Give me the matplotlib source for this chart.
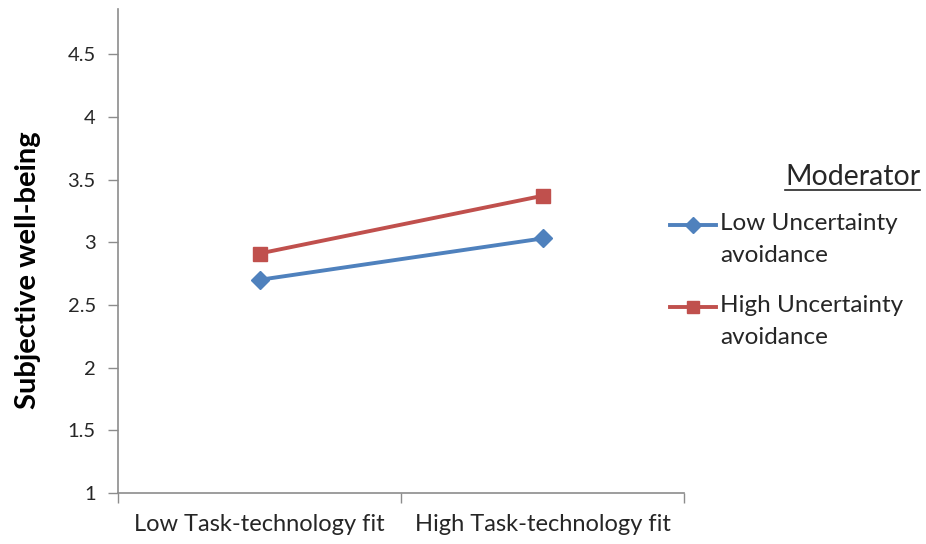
import numpy as np
import matplotlib
matplotlib.use('Agg')
import matplotlib.pyplot as plt
from matplotlib.lines import Line2D

plt.rcParams['font.family'] = ['Lato', 'DejaVu Sans']

# interaction plot values
categories = ['Low Task-technology fit', 'High Task-technology fit']
low_ua = [2.70, 3.03]
high_ua = [2.91, 3.37]
series_names = ['Low Uncertainty\navoidance', 'High Uncertainty\navoidance']
y_ticks = [1, 1.5, 2, 2.5, 3, 3.5, 4, 4.5]
y_labels = ['1', '1.5', '2', '2.5', '3', '3.5', '4', '4.5']

blue = '#4F81BD'
red = '#C0504D'
grey = '#8C8C8C'
ink = '#262626'

W, H = 926, 544


def fx(px):
    return px / W


def fy(py):
    return 1 - py / H


fig = plt.figure(figsize=(W / 100, H / 100), dpi=100)
ax = fig.add_axes([fx(118), fy(493), (684 - 118) / W, (493 - 9) / H])

x = np.arange(len(categories))
l1, = ax.plot(x, low_ua, color=blue, lw=2.8, marker='D', ms=9.5,
              solid_capstyle='round')
l2, = ax.plot(x, high_ua, color=red, lw=2.8, marker='s', ms=10,
              solid_capstyle='round')

ax.set_xlim(-0.5, 1.5)
ax.set_ylim(1, 4.86)

ax.set_yticks(y_ticks)
ax.set_yticklabels(y_labels)
ax.set_xticks([-0.5, 0.5, 1.5])
ax.set_xticklabels([])
ax.set_xticks(x, minor=True)
ax.set_xticklabels(categories, minor=True)

ax.tick_params(axis='y', direction='out', length=7, width=1, color=grey,
               labelsize=14.5, pad=9, labelcolor=ink)
ax.tick_params(axis='x', which='major', direction='out', length=7, width=1, color=grey)
ax.tick_params(axis='x', which='minor', length=0, labelsize=17, pad=15,
               labelcolor=ink)

for s in ['top', 'right']:
    ax.spines[s].set_visible(False)
for s in ['left', 'bottom']:
    ax.spines[s].set_color(grey)
    ax.spines[s].set_linewidth(1.2)

fig.text(fx(28), fy(270), 'Subjective well-being', rotation=90, ha='center',
         va='center', fontsize=21, fontweight='bold', color='black')

# legend block, drawn by hand so each handle sits on the first text line
mod = fig.text(fx(920), fy(177), 'Moderator', ha='right', va='center',
               fontsize=20.5, color=ink)
fig.canvas.draw()
bb = mod.get_window_extent()
fig.add_artist(Line2D([bb.x0 / W, bb.x1 / W], [fy(190), fy(190)],
                      color=ink, lw=1.2))

for line, label, ypx in [(l1, series_names[0], 225), (l2, series_names[1], 307)]:
    fig.add_artist(Line2D([fx(670), fx(716)], [fy(ypx), fy(ypx)],
                          color=line.get_color(), lw=line.get_linewidth()))
    fig.add_artist(Line2D([fx(693)], [fy(ypx)], color=line.get_color(),
                          marker=line.get_marker(), ms=line.get_markersize() * 0.85,
                          linestyle='none'))
    fig.text(fx(720), fy(ypx - 12), label, ha='left', va='top',
             fontsize=17.5, color=ink, linespacing=1.65)

fig.savefig('out.png', dpi=100)
